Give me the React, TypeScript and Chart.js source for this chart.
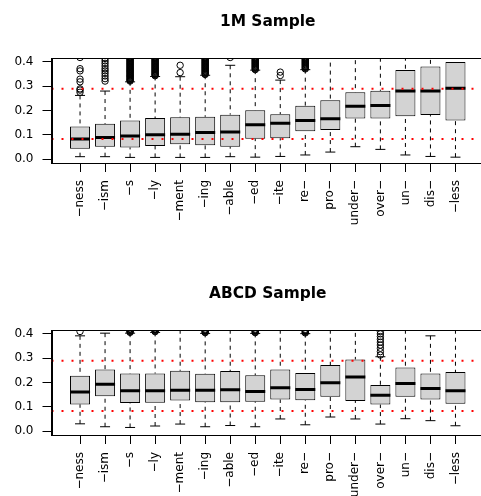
import React, { useEffect, useRef } from "react";
import { Chart, registerables } from "chart.js";

Chart.register(...registerables);

const categories = ["−ness", "−ism", "−s", "−ly", "−ment", "−ing", "−able", "−ed", "−ite", "re−", "pro−", "under−", "over−", "un−", "dis−", "−less"];
const yTicks = [0, 0.1, 0.2, 0.3, 0.4];
const refLines = [0.29, 0.083];

// 1M Sample
const q1Top = [0.043, 0.051, 0.048, 0.054, 0.061, 0.057, 0.051, 0.084, 0.086, 0.115, 0.120, 0.167, 0.167, 0.176, 0.181, 0.159];
const medTop = [0.083, 0.089, 0.095, 0.100, 0.102, 0.109, 0.112, 0.141, 0.148, 0.159, 0.166, 0.217, 0.221, 0.280, 0.280, 0.292];
const q3Top = [0.134, 0.145, 0.159, 0.169, 0.172, 0.174, 0.183, 0.201, 0.185, 0.220, 0.242, 0.275, 0.281, 0.367, 0.381, 0.400];
const loTop = [0.010, 0.010, 0.007, 0.007, 0.007, 0.007, 0.010, 0.008, 0.011, 0.017, 0.029, 0.051, 0.040, 0.017, 0.011, 0.008];
const hiTop = [0.262, 0.280, 0.318, 0.340, 0.339, 0.345, 0.386, 0.366, 0.325, 0.368, 0.430, 0.440, 0.450, 0.520, 0.540, 0.560];
const outTop: number[][] = [
  [0.275, 0.284, 0.289, 0.318, 0.329, 0.363, 0.372, 0.418],
  [0.321, 0.331, 0.342, 0.353, 0.363, 0.372, 0.383, 0.394, 0.404, 0.414],
  [0.321, 0.324, 0.326, 0.329, 0.332, 0.335, 0.338, 0.341, 0.343, 0.346, 0.349, 0.352, 0.355, 0.358, 0.361, 0.363, 0.366, 0.369, 0.372, 0.375, 0.378, 0.381, 0.384, 0.387, 0.39, 0.393, 0.396, 0.399, 0.402, 0.405, 0.408, 0.411, 0.414, 0.417, 0.42],
  [0.343, 0.346, 0.348, 0.351, 0.354, 0.357, 0.36, 0.363, 0.366, 0.369, 0.372, 0.375, 0.378, 0.381, 0.384, 0.387, 0.39, 0.393, 0.396, 0.399, 0.402, 0.405, 0.408, 0.411, 0.414, 0.417, 0.42],
  [0.356, 0.386],
  [0.348, 0.351, 0.354, 0.357, 0.36, 0.363, 0.366, 0.369, 0.372, 0.375, 0.378, 0.381, 0.384, 0.387, 0.39, 0.393, 0.396, 0.399, 0.402, 0.405, 0.408, 0.411, 0.414, 0.417, 0.42],
  [0.418],
  [0.368, 0.371, 0.374, 0.377, 0.38, 0.383, 0.386, 0.389, 0.392, 0.395, 0.398, 0.401, 0.404, 0.407, 0.41, 0.413, 0.416, 0.419],
  [0.344, 0.358],
  [0.371, 0.374, 0.377, 0.38, 0.383, 0.386, 0.389, 0.392, 0.395, 0.398, 0.401, 0.404, 0.407, 0.41, 0.413, 0.416, 0.419],
  [], [], [], [], [], [],
];

// ABCD Sample
const q1Bot = [0.110, 0.143, 0.116, 0.117, 0.126, 0.119, 0.119, 0.121, 0.130, 0.127, 0.141, 0.124, 0.109, 0.141, 0.130, 0.113];
const medBot = [0.161, 0.193, 0.166, 0.166, 0.168, 0.168, 0.170, 0.163, 0.178, 0.171, 0.199, 0.223, 0.148, 0.196, 0.175, 0.166];
const q3Bot = [0.228, 0.254, 0.237, 0.237, 0.248, 0.236, 0.247, 0.230, 0.254, 0.239, 0.272, 0.295, 0.190, 0.262, 0.237, 0.243];
const loBot = [0.030, 0.018, 0.015, 0.021, 0.029, 0.018, 0.023, 0.018, 0.050, 0.026, 0.058, 0.050, 0.029, 0.051, 0.043, 0.022];
const hiBot = [0.392, 0.403, 0.403, 0.406, 0.450, 0.402, 0.450, 0.402, 0.450, 0.401, 0.450, 0.470, 0.306, 0.450, 0.392, 0.450];
const outBot: number[][] = [
  [0.41],
  [],
  [0.406, 0.409, 0.412, 0.415, 0.418, 0.421],
  [0.409, 0.412, 0.415, 0.418, 0.421],
  [],
  [0.405, 0.408, 0.411, 0.414, 0.417, 0.42],
  [],
  [0.405, 0.408, 0.411, 0.414, 0.417, 0.42],
  [],
  [0.404, 0.407, 0.41, 0.413, 0.416, 0.419],
  [],
  [],
  [0.313, 0.327, 0.341, 0.354, 0.366, 0.378, 0.389, 0.4, 0.41],
  [],
  [],
  [],
];

const FONT = "DejaVu Sans";

function makeChart(
  canvas: HTMLCanvasElement,
  title: string,
  q1: number[],
  med: number[],
  q3: number[],
  lo: number[],
  hi: number[],
  outs: number[][],
  topPad: number,
  xAxisHeight: number
) {
  const extras = {
    id: "boxExtras",
    beforeDatasetsDraw(chart: any) {
      const { ctx, chartArea: a, scales } = chart;
      const x = scales.x, y = scales.y;
      ctx.save();
      ctx.beginPath();
      ctx.rect(a.left, a.top, a.right - a.left, a.bottom - a.top);
      ctx.clip();
      ctx.strokeStyle = "#000";
      ctx.lineWidth = 1;
      categories.forEach((_, i) => {
        const px = x.getPixelForValue(i + 1);
        const cw = x.getPixelForValue(i + 1.2) - px;
        ctx.setLineDash([4, 4]);
        ctx.beginPath();
        ctx.moveTo(px, y.getPixelForValue(hi[i]));
        ctx.lineTo(px, y.getPixelForValue(q3[i]));
        ctx.moveTo(px, y.getPixelForValue(lo[i]));
        ctx.lineTo(px, y.getPixelForValue(q1[i]));
        ctx.stroke();
        ctx.setLineDash([]);
        ctx.beginPath();
        [lo[i], hi[i]].forEach((v) => {
          const py = y.getPixelForValue(v);
          ctx.moveTo(px - cw, py);
          ctx.lineTo(px + cw, py);
        });
        ctx.stroke();
      });
      ctx.restore();
    },
    afterDatasetsDraw(chart: any) {
      const { ctx, chartArea: a, scales } = chart;
      const x = scales.x, y = scales.y;
      ctx.save();
      ctx.beginPath();
      ctx.rect(a.left, a.top, a.right - a.left, a.bottom - a.top);
      ctx.clip();
      ctx.strokeStyle = "#000";
      ctx.lineWidth = 3;
      categories.forEach((_, i) => {
        const l = x.getPixelForValue(i + 1 - 0.4);
        const r = x.getPixelForValue(i + 1 + 0.4);
        const py = y.getPixelForValue(med[i]);
        ctx.beginPath();
        ctx.moveTo(l, py);
        ctx.lineTo(r, py);
        ctx.stroke();
      });
      ctx.strokeStyle = "#ff0000";
      ctx.lineWidth = 2;
      ctx.setLineDash([2, 8]);
      refLines.forEach((v) => {
        const py = y.getPixelForValue(v);
        ctx.beginPath();
        ctx.moveTo(a.left, py);
        ctx.lineTo(a.right, py);
        ctx.stroke();
      });
      ctx.restore();
    },
    afterDraw(chart: any) {
      const { ctx, chartArea: a } = chart;
      ctx.save();
      ctx.strokeStyle = "#000";
      ctx.lineWidth = 1;
      ctx.strokeRect(Math.round(a.left) + 0.5, Math.round(a.top) + 0.5, a.right - a.left, a.bottom - a.top);
      ctx.fillStyle = "#000";
      ctx.font = `bold 15.4px "${FONT}"`;
      ctx.textAlign = "center";
      ctx.textBaseline = "middle";
      ctx.fillText(title, (a.left + a.right) / 2, a.top - 36.5);
      ctx.restore();
    },
  };

  const outlierData: { x: number; y: number }[] = [];
  outs.forEach((list, i) => list.forEach((v) => outlierData.push({ x: i + 1, y: v })));

  const tickFont = { family: FONT, size: 12 };

  return new Chart(canvas, {
    type: "bar",
    data: {
      datasets: [
        {
          type: "bar",
          data: categories.map((_, i) => ({ x: i + 1, y: [q1[i], q3[i]] })) as any,
          backgroundColor: "#d3d3d3",
          borderColor: "#000",
          borderWidth: 1,
          borderSkipped: false,
          barPercentage: 1,
          categoryPercentage: 0.8,
          clip: 0,
        } as any,
        {
          type: "scatter",
          data: outlierData,
          showLine: false,
          pointStyle: "circle",
          pointRadius: 3.2,
          pointBorderWidth: 1,
          pointBorderColor: "#000",
          pointBackgroundColor: "rgba(0,0,0,0)",
          clip: 0,
        } as any,
      ],
    },
    options: {
      animation: false,
      responsive: false,
      devicePixelRatio: 1,
      layout: { autoPadding: false, padding: { top: topPad, left: 0, right: 0, bottom: 0 } },
      plugins: {
        legend: { display: false },
        tooltip: { enabled: false },
        title: { display: false },
      },
      scales: {
        x: {
          type: "linear",
          min: -0.14,
          max: 17.14,
          offset: false,
          afterBuildTicks: (s: any) => {
            s.ticks = categories.map((_, i) => ({ value: i + 1 }));
          },
          afterFit: (s: any) => {
            s.height = xAxisHeight;
            s.paddingLeft = 0;
            s.paddingRight = 0;
          },
          grid: { drawOnChartArea: false, drawTicks: true, tickLength: 9, color: "#000", offset: false },
          border: { display: true, color: "#000" },
          ticks: {
            autoSkip: false,
            minRotation: 90,
            maxRotation: 90,
            padding: 8,
            color: "#000",
            font: tickFont,
            callback: (v: any) => categories[Math.round(Number(v)) - 1] ?? "",
          },
        },
        y: {
          type: "linear",
          min: -0.016,
          max: 0.416,
          afterBuildTicks: (s: any) => {
            s.ticks = yTicks.map((v) => ({ value: v }));
          },
          afterFit: (s: any) => {
            s.width = 51.5;
            s.paddingTop = 0;
            s.paddingBottom = 0;
          },
          grid: { drawOnChartArea: false, drawTicks: true, tickLength: 9, color: "#000" },
          border: { display: true, color: "#000" },
          ticks: {
            padding: 9,
            color: "#000",
            font: tickFont,
            callback: (v: any) => Number(v).toFixed(1),
          },
        },
      },
    } as any,
    plugins: [extras],
  });
}

export default function App() {
  const topRef = useRef<HTMLCanvasElement>(null);
  const botRef = useRef<HTMLCanvasElement>(null);

  useEffect(() => {
    const c1 = makeChart(topRef.current!, "1M Sample", q1Top, medTop, q3Top, loTop, hiTop, outTop, 58, 85);
    const c2 = makeChart(botRef.current!, "ABCD Sample", q1Bot, medBot, q3Bot, loBot, hiBot, outBot, 82, 61);
    return () => {
      c1.destroy();
      c2.destroy();
    };
  }, []);

  return (
    <div style={{ position: "fixed", left: 0, top: 0, width: 481, height: 496, overflow: "hidden", background: "#fff" }}>
      <canvas ref={topRef} width={484} height={248} style={{ position: "absolute", left: 0, top: 0, display: "block" }} />
      <canvas ref={botRef} width={484} height={248} style={{ position: "absolute", left: 0, top: 248, display: "block" }} />
    </div>
  );
}
